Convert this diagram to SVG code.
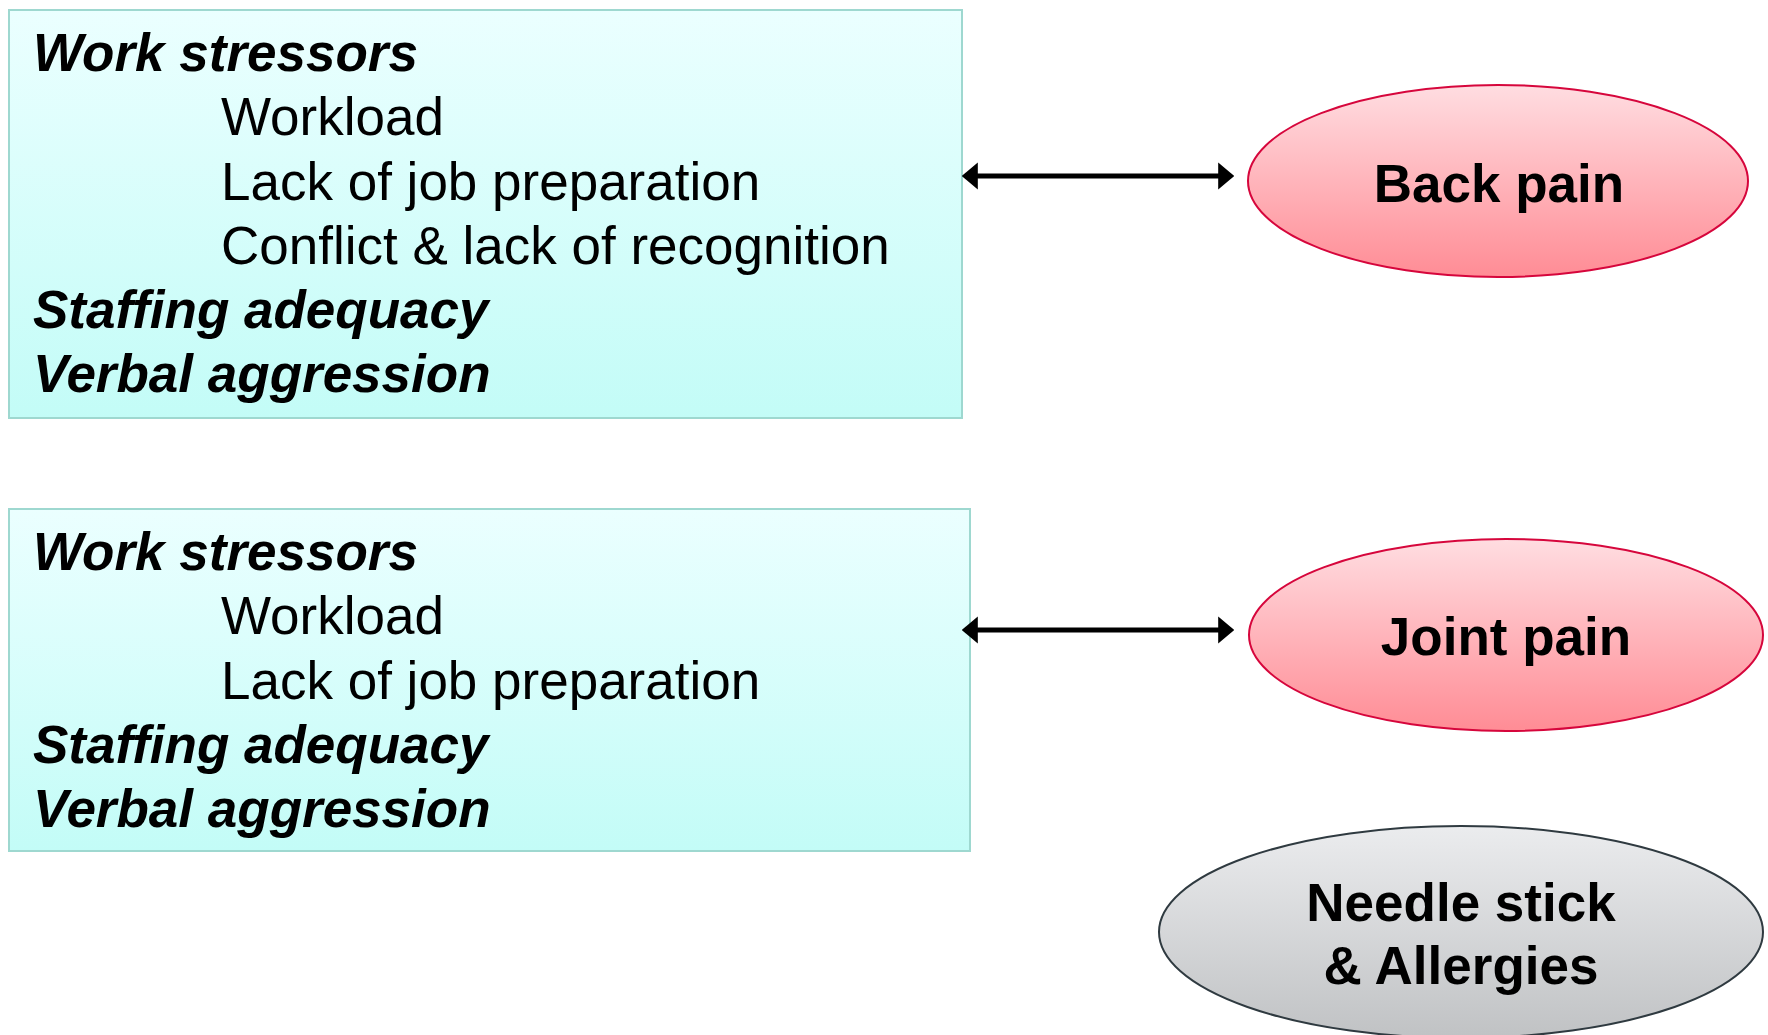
<svg xmlns="http://www.w3.org/2000/svg" width="1768" height="1035" viewBox="0 0 1768 1035">
<style>
.t{font-family:"Liberation Sans",Arial,sans-serif;font-size:53px;fill:#000}
.h{font-weight:bold;font-style:italic}
.n{font-weight:bold;text-anchor:middle}
.box{stroke:#9ed8d0;stroke-width:2}
.red{fill:url(#gr);stroke:#d6063c;stroke-width:2}
.gray{fill:url(#gg);stroke:#2f3a40;stroke-width:2}
.c{stroke:#000;stroke-width:5;fill:none;marker-start:url(#ah);marker-end:url(#ah)}
</style>
<defs>
<linearGradient id="gb" x1="0" y1="0" x2="0" y2="1"><stop offset="0" stop-color="#ebffff"/><stop offset="1" stop-color="#c3fcf7"/></linearGradient>
<linearGradient id="gr" x1="0" y1="0" x2="0" y2="1"><stop offset="0" stop-color="#ffdde1"/><stop offset="1" stop-color="#ff8c95"/></linearGradient>
<linearGradient id="gg" x1="0" y1="0" x2="0" y2="1"><stop offset="0" stop-color="#ebecee"/><stop offset="1" stop-color="#c0c2c4"/></linearGradient>
<marker id="ah" viewBox="0 0 10 17" refX="8" refY="8.5" markerWidth="3.2" markerHeight="5.44" markerUnits="strokeWidth" orient="auto-start-reverse"><path d="M0,0L10,8.5L0,17z" fill="#000"/></marker>
</defs>
<g id="box1">
<rect class="box" x="9" y="10" width="953" height="408" fill="url(#gb)"/>
<text class="t h" x="33" y="71">Work stressors</text>
<text class="t" x="221" y="135">Workload</text>
<text class="t" x="221" y="200">Lack of job preparation</text>
<text class="t" x="221" y="264">Conflict &amp; lack of recognition</text>
<text class="t h" x="33" y="328">Staffing adequacy</text>
<text class="t h" x="33" y="392">Verbal aggression</text>
</g>
<g id="box2">
<rect class="box" x="9" y="509" width="961" height="342" fill="url(#gb)"/>
<text class="t h" x="33" y="570">Work stressors</text>
<text class="t" x="221" y="634">Workload</text>
<text class="t" x="221" y="699">Lack of job preparation</text>
<text class="t h" x="33" y="763">Staffing adequacy</text>
<text class="t h" x="33" y="827">Verbal aggression</text>
</g>
<g id="backpain">
<ellipse class="red" cx="1498" cy="181" rx="250" ry="96"/>
<text class="t n" x="1499" y="202">Back pain</text>
</g>
<g id="jointpain">
<ellipse class="red" cx="1506" cy="635" rx="257" ry="96"/>
<text class="t n" x="1506" y="655">Joint pain</text>
</g>
<g id="needle">
<ellipse class="gray" cx="1461" cy="932" rx="302" ry="106"/>
<text class="t n" x="1461" y="921">Needle stick</text>
<text class="t n" x="1461" y="984">&amp; Allergies</text>
</g>
<g id="connectors">
<line class="c" x1="965" y1="176" x2="1231" y2="176"/>
<line class="c" x1="965" y1="630" x2="1231" y2="630"/>
</g>
</svg>
